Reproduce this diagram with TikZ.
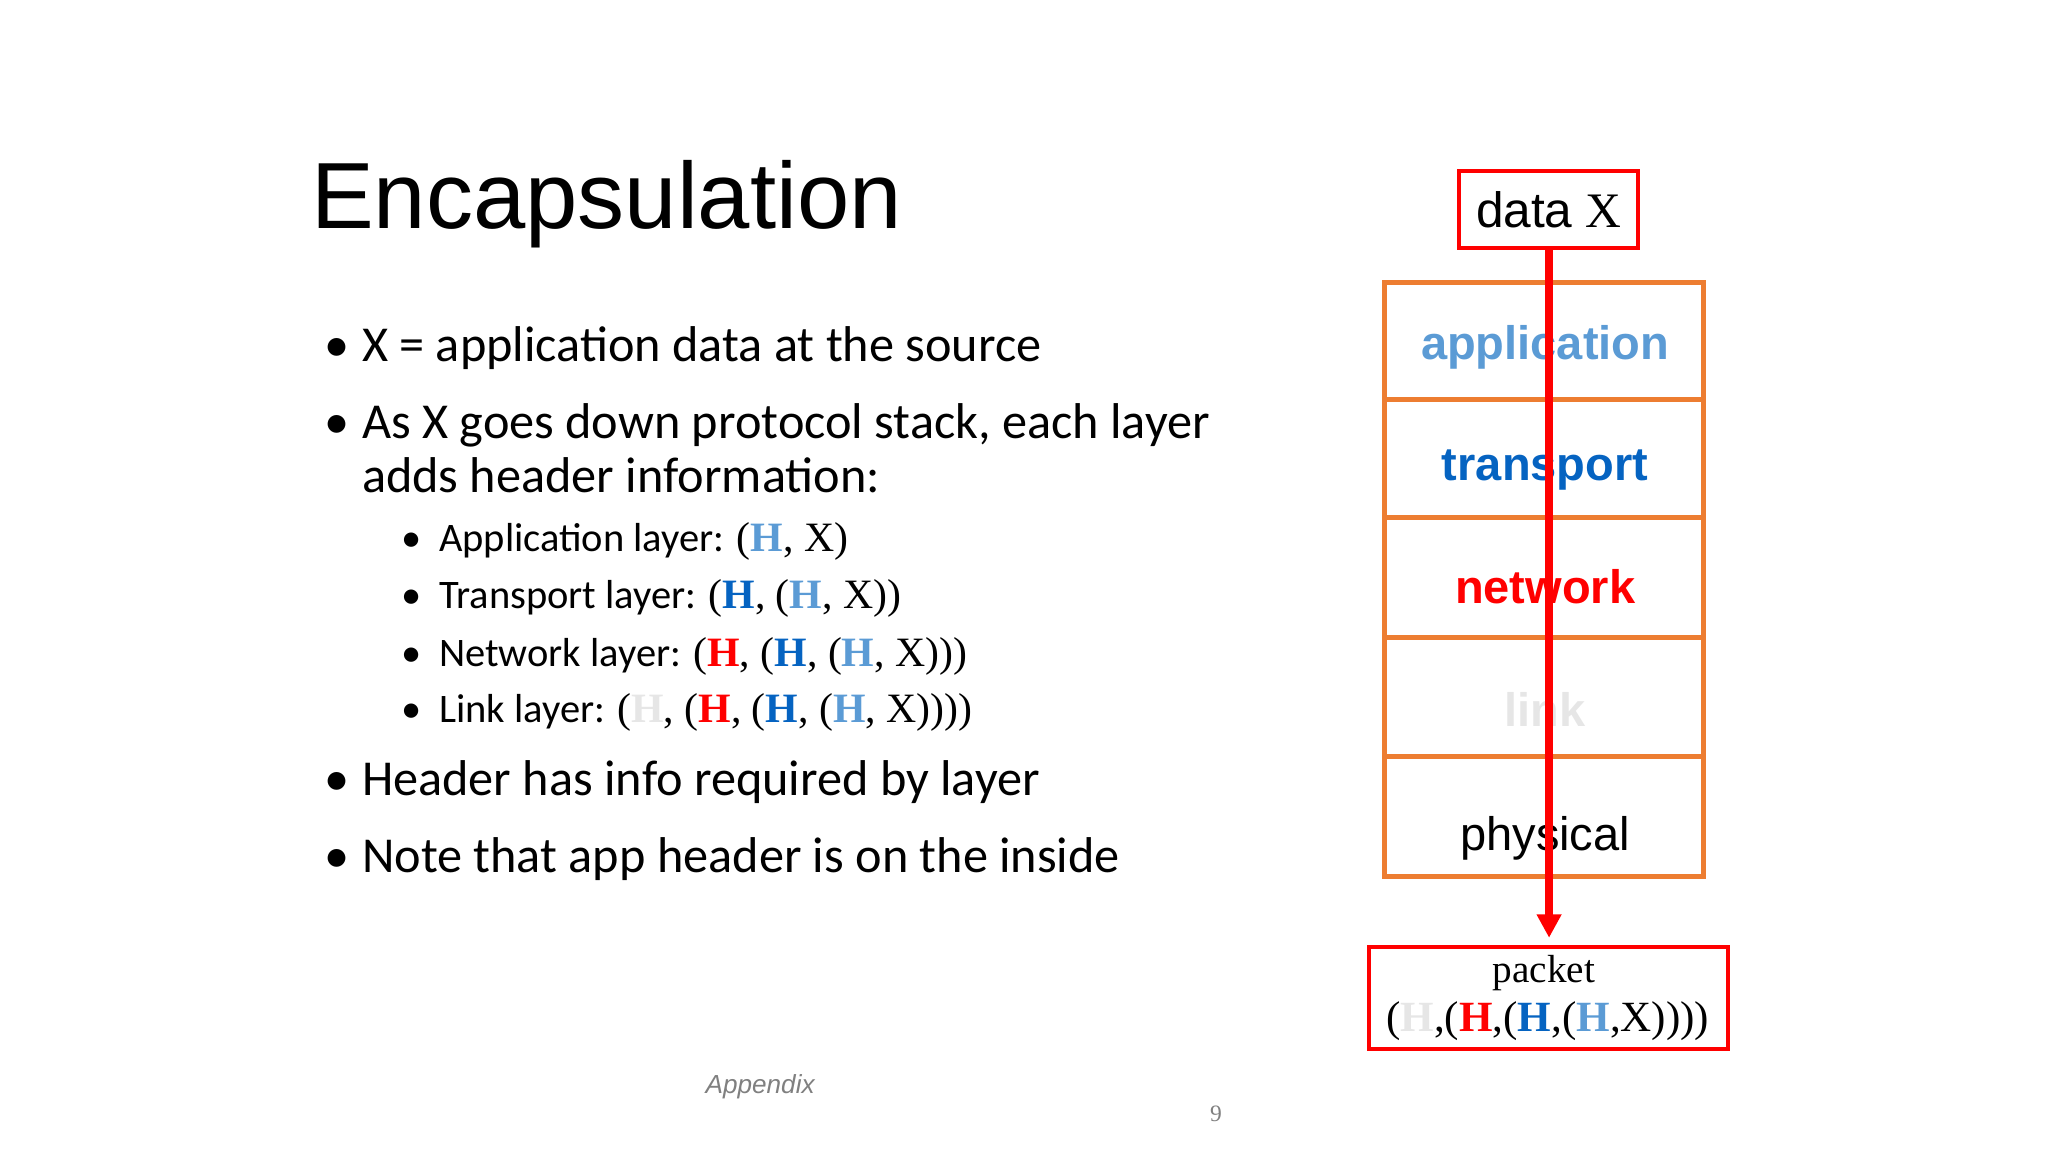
\documentclass[tikz,border=0pt]{standalone}
\usepackage{fontspec}
\setmainfont{Liberation Serif}
\newfontfamily\arialf{Liberation Sans}
\newfontfamily\calf{Carlito}
\usetikzlibrary{arrows.meta}
\definecolor{lb}{HTML}{5B9BD5}
\definecolor{db}{HTML}{0563C1}
\definecolor{rd}{HTML}{FF0000}
\definecolor{lg}{HTML}{E6E6E6}
\definecolor{orng}{HTML}{ED7D31}
\newcommand{\Hc}[1]{\textcolor{#1}{\textbf{H}}}
\newcommand{\tf}[1]{{\rmfamily\fontsize{32}{34}\selectfont #1}}
\newcommand{\bb}{\makebox[29pt][l]{\textbullet}}
\begin{document}
\begin{tikzpicture}[x=1pt,y=-1pt,
  bul/.style={anchor=base west,inner sep=0pt,font=\calf\fontsize{38.5}{40}\selectfont},
  sub/.style={anchor=base west,inner sep=0pt,font=\calf\fontsize{31}{34}\selectfont},
  lay/.style={anchor=base,inner sep=0pt,font=\arialf\bfseries\fontsize{36}{40}\selectfont},
  redbox/.style={draw=rd,line width=3pt}]
\useasboundingbox (0,0) rectangle (1568,882);
\node[anchor=base west,inner sep=0pt,font=\arialf\fontsize{72}{80}\selectfont] (title) at (238,175) {Encapsulation};
\node[bul] (b1) at (248,277) {\bb X = application data at the source};
\node[bul] (b2) at (248,336) {\bb As X goes down protocol stack, each layer};
\node[bul] (b2b) at (277,377) {adds header information:};
\node[sub] (s1) at (307,422) {\bb Application layer: \tf{(\Hc{lb}, X)}};
\node[sub] (s2) at (307,466) {\bb Transport layer: \tf{(\Hc{db}, (\Hc{lb}, X))}};
\node[sub] (s3) at (307,510) {\bb Network layer: \tf{(\Hc{rd}, (\Hc{db}, (\Hc{lb}, X)))}};
\node[sub] (s4) at (307,553) {\bb Link layer: \tf{(\Hc{lg}, (\Hc{rd}, (\Hc{db}, (\Hc{lb}, X))))}};
\node[bul] (b3) at (248,609) {\bb Header has info required by layer};
\node[bul] (b4) at (248,668) {\bb Note that app header is on the inside};
% stack
\draw[orng,line width=4pt] (1060,216) rectangle (1304,671);
\foreach \y in {306,396,488,579} \draw[orng,line width=4pt] (1060,\y) -- (1304,\y);
\node[lay,text=lb] (app) at (1183,275) {application};
\node[lay,text=db] (tr) at (1183,368) {transport};
\node[lay,text=rd] (net) at (1183,462) {network};
\node[lay,text=lg] (lnk) at (1183,556) {link};
\node[lay,font=\arialf\fontsize{36}{40}\selectfont] (phy) at (1183,651) {physical};
% data box
\node[redbox,minimum width=137pt,minimum height=59pt,inner sep=0pt,font=\fontsize{38}{40}\selectfont] (data) at (1185.5,160.5) {{\arialf data} X};
\node[redbox,minimum width=275pt,minimum height=78pt,inner sep=0pt,align=center] (pkt) at (1185.5,764) {};
\node[anchor=base,inner sep=0pt,font=\fontsize{30}{34}\selectfont] (pl1) at (1182,752) {packet};
\node[anchor=base,inner sep=0pt,font=\fontsize{33}{36}\selectfont] (pl2) at (1185,790) {(\Hc{lg},(\Hc{rd},(\Hc{db},(\Hc{lb},X))))};
\draw[rd,line width=6pt,-{Triangle[length=18pt,width=18pt]}] (data.south -| 1186,0) -- (1186,718) coordinate (arrend);
\node[anchor=base,inner sep=0pt,text=gray,font=\arialf\itshape\fontsize{20}{22}\selectfont] (appx) at (582,837) {Appendix};
\node[anchor=base,inner sep=0pt,text=gray,font=\fontsize{18}{20}\selectfont] (pg) at (931,859) {9};
\end{tikzpicture}
\end{document}
